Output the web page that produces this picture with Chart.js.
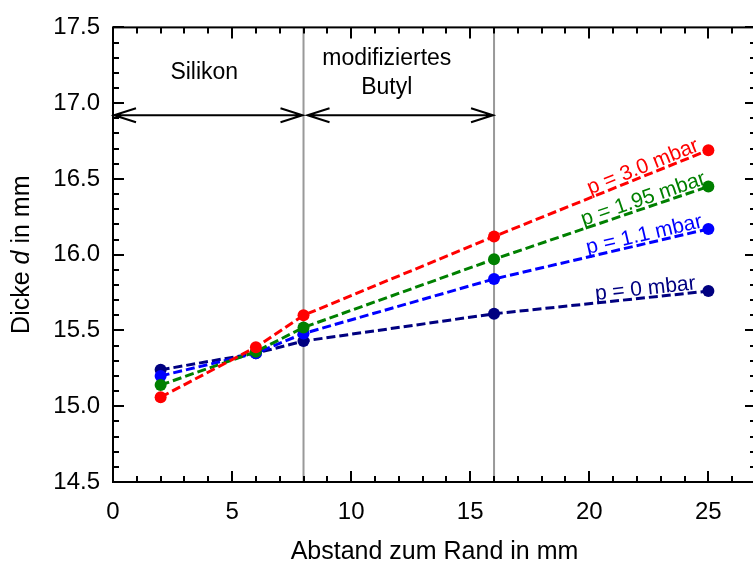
<!DOCTYPE html>
<html>
<head>
<meta charset="utf-8">
<script src="https://cdn.jsdelivr.net/npm/chart.js@4/dist/chart.umd.min.js"></script>
<style>
  html, body { margin: 0; padding: 0; background: #fff; overflow: hidden; }
</style>
</head>
<body>
<canvas id="chart" width="762" height="564"></canvas>
<script>
const positions = [2, 6, 8, 16, 25]
const pressureLabels = ['p = 3.0 mbar', 'p = 1.95 mbar', 'p = 1.1 mbar', 'p = 0 mbar']
const thickness30 = [15.06, 15.39, 15.60, 16.12, 16.69]
const thickness195 = [15.14, 15.36, 15.52, 15.97, 16.45]
const thickness11 = [15.20, 15.35, 15.48, 15.84, 16.17]
const thickness0 = [15.24, 15.35, 15.43, 15.61, 15.76]
const seriesColors = ['#ff0000', '#008000', '#0000ff', '#000080']
const materialBounds = [0, 8, 16]
const materialNames = [['Silikon'], ['modifiziertes', 'Butyl']]

const FONT = "'Liberation Sans', Arial, sans-serif"
Chart.defaults.font.family = FONT
Chart.defaults.color = '#000'

const series = [thickness30, thickness195, thickness11, thickness0]

const datasets = series.map((values, i) => ({
  label: pressureLabels[i],
  data: positions.map((p, j) => ({ x: p, y: values[j] })),
  borderColor: seriesColors[i],
  backgroundColor: seriesColors[i],
  borderWidth: 3,
  borderDash: [9, 4],
  pointRadius: 6,
  pointBorderWidth: 0,
  tension: 0
}))

// frame, inner ticks, material separators and arrows
const decorations = {
  id: 'decorations',
  beforeDatasetsDraw(chart) {
    const { ctx, chartArea: a, scales: { x, y } } = chart
    ctx.save()

    ctx.strokeStyle = '#999'
    ctx.lineWidth = 2
    materialBounds.slice(1).forEach(v => {
      const px = x.getPixelForValue(v)
      ctx.beginPath()
      ctx.moveTo(px, a.top)
      ctx.lineTo(px, a.bottom)
      ctx.stroke()
    })

    // arrows
    const ay = y.getPixelForValue(16.92)
    ctx.strokeStyle = '#000'
    ctx.lineWidth = 2
    for (let i = 0; i < materialBounds.length - 1; i++) {
      const x0 = x.getPixelForValue(materialBounds[i]) + (i === 0 ? 1 : 4)
      const x1 = x.getPixelForValue(materialBounds[i + 1]) - 1
      ctx.beginPath()
      ctx.moveTo(x0, ay)
      ctx.lineTo(x1, ay)
      ctx.moveTo(x0 + 22, ay - 7)
      ctx.lineTo(x0, ay)
      ctx.lineTo(x0 + 22, ay + 7)
      ctx.moveTo(x1 - 22, ay - 7)
      ctx.lineTo(x1, ay)
      ctx.lineTo(x1 - 22, ay + 7)
      ctx.stroke()
    }

    // material names
    ctx.fillStyle = '#000'
    ctx.font = '23px ' + FONT
    ctx.textAlign = 'center'
    ctx.textBaseline = 'middle'
    const nudge = [-4, -12]
    materialNames.forEach((lines, i) => {
      const cx = x.getPixelForValue((materialBounds[i] + materialBounds[i + 1]) / 2) + nudge[i]
      const cy = 73
      lines.forEach((t, k) => {
        ctx.fillText(t, cx, cy + (k - (lines.length - 1) / 2) * 29)
      })
    })
    ctx.restore()
  },
  afterDatasetsDraw(chart) {
    const { ctx, chartArea: a, scales: { x, y } } = chart
    ctx.save()

    // series labels along the last segment
    ctx.font = '21px ' + FONT
    ctx.textAlign = 'center'
    ctx.textBaseline = 'alphabetic'
    chart.data.datasets.forEach((ds, i) => {
      const pts = chart.getDatasetMeta(i).data
      const p0 = pts[pts.length - 2]
      const p1 = pts[pts.length - 1]
      const ang = Math.atan2(p1.y - p0.y, p1.x - p0.x)
      const t = 0.71
      const lx = p0.x + (p1.x - p0.x) * t
      const ly = p0.y + (p1.y - p0.y) * t
      ctx.save()
      ctx.translate(lx, ly)
      ctx.rotate(ang)
      ctx.fillStyle = ds.borderColor
      ctx.fillText(ds.label, 0, -3)
      ctx.restore()
    })

    // frame
    ctx.strokeStyle = '#000'
    ctx.lineWidth = 2
    ctx.strokeRect(a.left, a.top, a.right - a.left, a.bottom - a.top)

    ctx.beginPath()
    for (let v = 0; v <= x.max; v += 1) {
      const px = Math.round(x.getPixelForValue(v))
      const len = v % 5 === 0 ? 11 : 6
      ctx.moveTo(px, a.bottom); ctx.lineTo(px, a.bottom - len)
      ctx.moveTo(px, a.top); ctx.lineTo(px, a.top + len)
    }
    for (let k = 0; k <= 30; k++) {
      const v = y.min + k * 0.1
      const py = Math.round(y.getPixelForValue(v))
      const len = k % 5 === 0 ? 11 : 6
      ctx.moveTo(a.left, py); ctx.lineTo(a.left + len, py)
      ctx.moveTo(a.right, py); ctx.lineTo(a.right - len, py)
    }
    ctx.stroke()

    // y axis title with italic symbol
    ctx.translate(22, (a.top + a.bottom) / 2)
    ctx.rotate(-Math.PI / 2)
    ctx.fillStyle = '#000'
    ctx.textBaseline = 'middle'
    ctx.textAlign = 'left'
    const parts = [['Dicke ', ''], ['d', 'italic '], [' in mm', '']]
    let total = 0
    parts.forEach(([s, st]) => { ctx.font = st + '25px ' + FONT; total += ctx.measureText(s).width })
    let cx = -total / 2
    parts.forEach(([s, st]) => {
      ctx.font = st + '25px ' + FONT
      ctx.fillText(s, cx, 0)
      cx += ctx.measureText(s).width
    })
    ctx.restore()
  }
}

const config = {
  type: 'line',
  data: { datasets },
  options: {
    responsive: false,
    animation: false,
    layout: { padding: { left: 0, right: 0, top: 21, bottom: 0 } },
    scales: {
      x: {
        type: 'linear',
        min: 0,
        max: 27,
        grid: { display: false, drawTicks: false },
        border: { display: false },
        ticks: {
          stepSize: 5,
          includeBounds: false,
          maxRotation: 0,
          padding: 16,
          font: { size: 24 }
        },
        title: {
          display: true,
          text: 'Abstand zum Rand in mm',
          font: { size: 25 },
          padding: { top: 0, bottom: -3 }
        },
        afterFit: s => { s.height = 82 }
      },
      y: {
        min: 14.5,
        max: 17.5,
        grid: { display: false, drawTicks: false },
        border: { display: false },
        ticks: {
          stepSize: 0.5,
          padding: 13,
          font: { size: 24 },
          callback: v => v.toFixed(1)
        },
        afterFit: s => { s.width = 113 }
      }
    },
    plugins: {
      legend: { display: false },
      tooltip: { enabled: false }
    }
  },
  plugins: [decorations]
}

new Chart(document.getElementById('chart').getContext('2d'), config)
</script>
</body>
</html>
